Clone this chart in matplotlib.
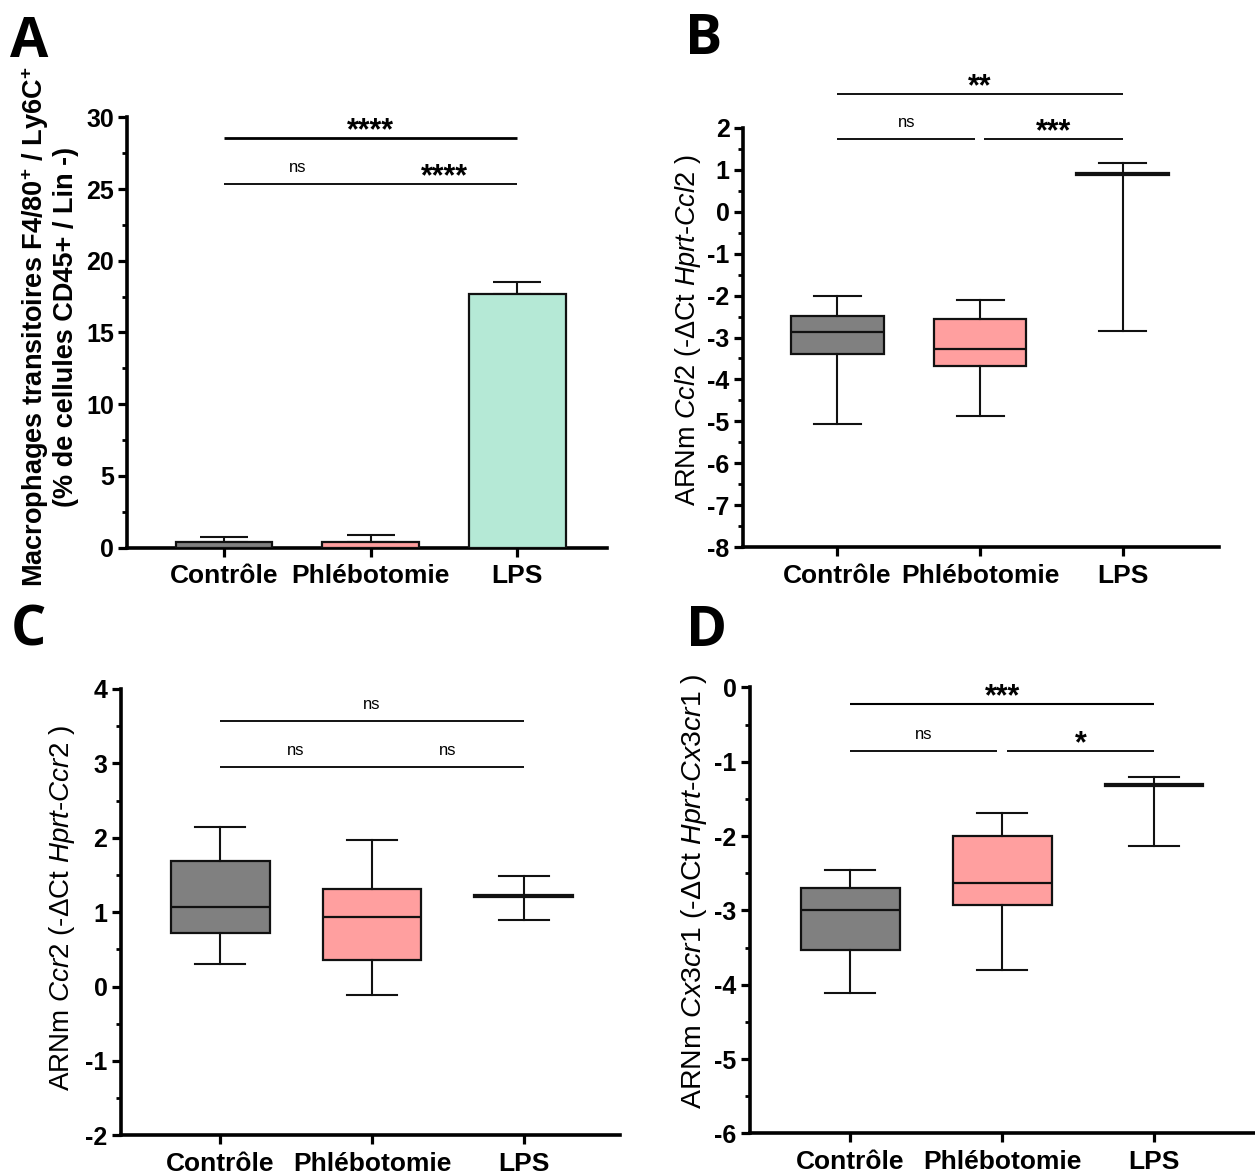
import matplotlib
matplotlib.use('Agg')
import matplotlib.pyplot as plt
from matplotlib.ticker import MultipleLocator

plt.rcParams['font.family'] = ['Liberation Sans', 'DejaVu Sans']
plt.rcParams['font.weight'] = 'bold'
plt.rcParams['axes.unicode_minus'] = False
plt.rcParams['mathtext.fontset'] = 'custom'
plt.rcParams['mathtext.rm'] = 'Liberation Sans:weight=normal'
plt.rcParams['mathtext.it'] = 'Liberation Sans:style=italic:weight=normal'
plt.rcParams['mathtext.bf'] = 'Liberation Sans:weight=bold'

# ---------------- data ----------------
groups = ['Contrôle', 'Phlébotomie', 'LPS']
fill_colors = ['#808080', '#FF9F9F', '#B5E9D6']

# Panel A (bar: mean + upper error)
a_mean = [0.37, 0.40, 17.68]
a_err = [0.35, 0.45, 0.86]

# Panel B  (Ccl2)
b_whislo = [-5.06, -4.86, -2.85]
b_q1 = [-3.40, -3.69, 0.87]
b_med = [-2.86, -3.28, 0.90]
b_q3 = [-2.49, -2.55, 0.93]
b_whishi = [-2.00, -2.10, 1.15]

# Panel C  (Ccr2)
c_whislo = [0.30, -0.11, 0.90]
c_q1 = [0.72, 0.35, 1.205]
c_med = [1.07, 0.93, 1.22]
c_q3 = [1.69, 1.31, 1.235]
c_whishi = [2.14, 1.975, 1.49]

# Panel D  (Cx3cr1)
d_whislo = [-4.11, -3.80, -2.13]
d_q1 = [-3.53, -2.93, -1.325]
d_med = [-3.00, -2.63, -1.31]
d_q3 = [-2.70, -2.00, -1.295]
d_whishi = [-2.45, -1.685, -1.21]

# significance brackets: (group from, group to, y, label, line width)
sig_a = [(0, 2, 28.55, '****', 2.0), (0, 1, 25.35, 'ns', 1.3), (1, 2, 25.35, '****', 1.3)]
sig_b = [(0, 2, 2.80, '**', 1.3), (0, 0.965, 1.735, 'ns', 1.3), (1.03, 2, 1.735, '***', 1.3)]
sig_c = [(0, 2, 3.575, 'ns', 1.3), (0, 1, 2.95, 'ns', 1.3), (1, 2, 2.95, 'ns', 1.3)]
sig_d = [(0, 2, -0.22, '***', 1.5), (0, 0.965, -0.85, 'ns', 1.3), (1.03, 2, -0.85, '*', 1.3)]

# ---------------- figure ----------------
W, H = 1255, 1176
fig = plt.figure(figsize=(W / 100, H / 100), dpi=100)


def px_axes(left, right, top, bottom):
    return fig.add_axes([left / W, 1 - bottom / H, (right - left) / W, (bottom - top) / H])


def style(ax, ylim, major, minor, xlim):
    ax.set_xlim(*xlim)
    ax.set_ylim(*ylim)
    ax.spines[['top', 'right']].set_visible(False)
    for s in ('left', 'bottom'):
        ax.spines[s].set_linewidth(2.6)
    ax.yaxis.set_major_locator(MultipleLocator(major))
    ax.yaxis.set_minor_locator(MultipleLocator(minor))
    ax.set_xticks(range(len(groups)))
    ax.set_xticklabels(groups)
    ax.tick_params(axis='both', which='major', length=6.5, width=2.3, direction='out')
    ax.tick_params(axis='y', which='minor', length=3.8, width=2.0)
    ax.tick_params(axis='y', labelsize=18, pad=3)
    ax.tick_params(axis='x', labelsize=19, pad=5.5)
    ax.tick_params(axis='x', which='minor', bottom=False)


def brackets(ax, sig):
    for x1, x2, y, lab, lw in sig:
        ax.plot([x1, x2], [y, y], color='black', lw=lw, clip_on=False, solid_capstyle='butt')
        xm = (x1 + x2) / 2
        if lab == 'ns':
            ax.annotate(lab, (xm, y), xytext=(0, 8.5), textcoords='offset points',
                        ha='center', va='baseline', fontsize=12, fontweight='normal',
                        annotation_clip=False)
        else:
            ax.annotate(lab, (xm, y), xytext=(0, -1.0), textcoords='offset points',
                        ha='center', va='baseline', fontsize=22, fontweight='bold',
                        annotation_clip=False)


def boxes(ax, whislo, q1, med, q3, whishi):
    stats = [dict(whislo=whislo[i], q1=q1[i], med=med[i], q3=q3[i], whishi=whishi[i], label=groups[i])
             for i in range(len(groups))]
    bp = ax.bxp(stats, positions=range(len(groups)), widths=0.65, capwidths=0.33,
                showfliers=False, patch_artist=True,
                boxprops=dict(edgecolor='#111111', linewidth=1.6),
                medianprops=dict(color='#111111', linewidth=1.6),
                whiskerprops=dict(color='#111111', linewidth=1.5),
                capprops=dict(color='#111111', linewidth=1.5))
    for patch, c in zip(bp['boxes'], fill_colors):
        patch.set_facecolor(c)
    ax.set_xticks(range(len(groups)))
    ax.set_xticklabels(groups)


# ---- Panel A ----
axA = px_axes(127, 607, 117.3, 547.5)
axA.bar(range(len(groups)), a_mean, width=0.66, color=fill_colors, edgecolor='#111111', linewidth=1.6, zorder=3)
axA.errorbar(range(len(groups)), a_mean, yerr=[[0] * len(groups), a_err], fmt='none',
             ecolor='#111111', elinewidth=1.5, capsize=17.3, capthick=1.5, zorder=2)
style(axA, (0, 30), 5, 2.5, (-0.661, 2.611))
brackets(axA, sig_a)
fig.text(49 / W, 1 - 327 / H,
         'Macrophages transitoires F4/80$^{\\mathbf{+}}$ / Ly6C$^{\\mathbf{+}}$\n(% de cellules CD45+ / Lin -)',
         rotation=90, ha='center', va='center', multialignment='center', fontsize=19.5,
         fontweight='bold', linespacing=1.1)

# ---- Panel B ----
axB = px_axes(742.8, 1219, 127.7, 547.3)
boxes(axB, b_whislo, b_q1, b_med, b_q3, b_whishi)
style(axB, (-8, 2), 1, 0.5, (-0.664, 2.675))
brackets(axB, sig_b)
fig.text(688 / W, 1 - 330 / H, 'ARNm $\\mathit{Ccl2}$ (-ΔCt $\\mathit{Hprt}$-$\\mathit{Ccl2}$ )',
         rotation=90, ha='center', va='center', fontsize=19.5, fontweight='normal')

# ---- Panel C ----
axC = px_axes(120.6, 620, 688.9, 1135.3)
boxes(axC, c_whislo, c_q1, c_med, c_q3, c_whishi)
style(axC, (-2, 4), 1, 0.5, (-0.656, 2.634))
brackets(axC, sig_c)
fig.text(62 / W, 1 - 908 / H, 'ARNm $\\mathit{Ccr2}$ (-ΔCt $\\mathit{Hprt}$-$\\mathit{Ccr2}$ )',
         rotation=90, ha='center', va='center', fontsize=20, fontweight='normal')

# ---- Panel D ----
axD = px_axes(749.6, 1255, 687.4, 1133.4)
boxes(axD, d_whislo, d_q1, d_med, d_q3, d_whishi)
style(axD, (-6, 0), 1, 0.5, (-0.662, 2.664))
brackets(axD, sig_d)
fig.text(694 / W, 1 - 891 / H, 'ARNm $\\mathit{Cx3cr1}$ (-ΔCt $\\mathit{Hprt}$-$\\mathit{Cx3cr1}$ )',
         rotation=90, ha='center', va='center', fontsize=20.5, fontweight='normal')

# ---- Panel letters ----
for lab, x, y in [('A', 10, 57), ('B', 685, 54), ('C', 11, 646), ('D', 686, 646)]:
    fig.text(x / W, 1 - y / H, lab, fontsize=40, fontweight='bold', family=['Open Sans', 'DejaVu Sans'],
             ha='left', va='baseline')

fig.savefig('out.png', dpi=100)
